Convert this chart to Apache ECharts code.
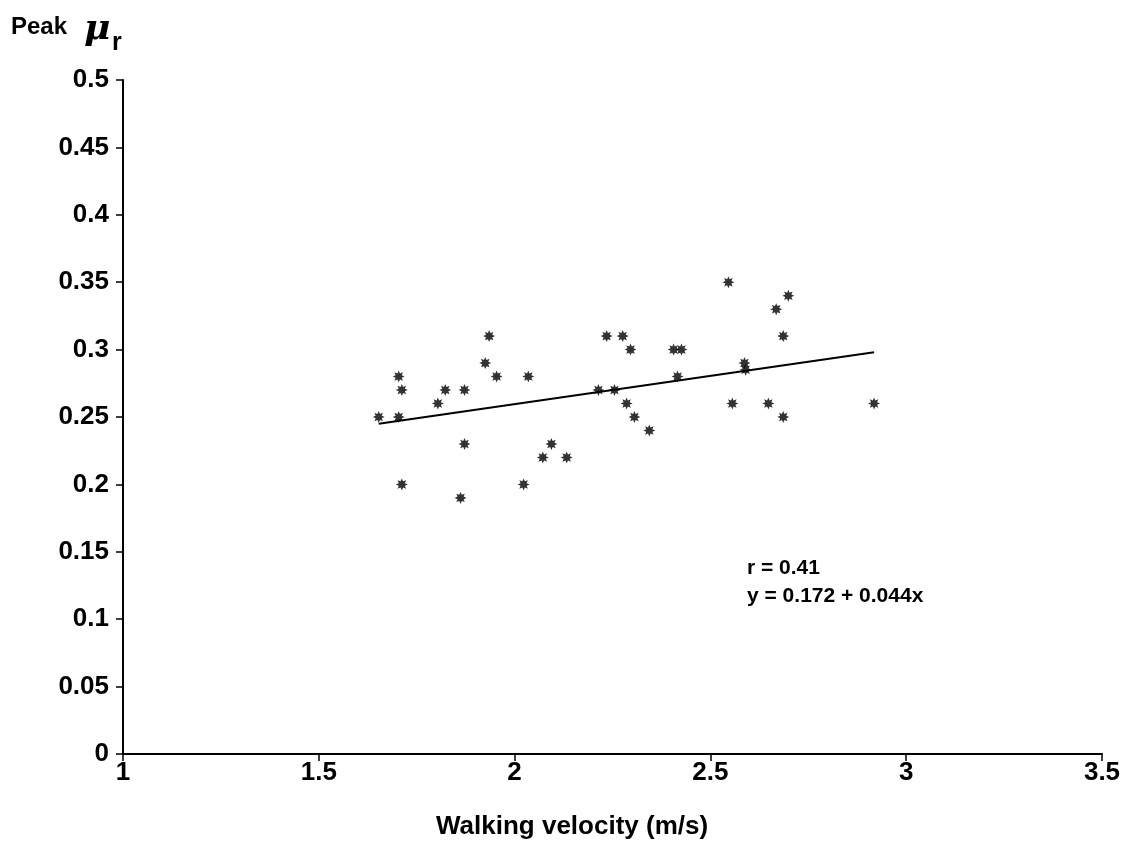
<!DOCTYPE html>
<html><head><meta charset="utf-8">
<script src="https://cdn.jsdelivr.net/npm/echarts@6/dist/echarts.min.js"></script>
<style>html,body{margin:0;padding:0;background:#fff}#c{width:1124px;height:852px}</style>
</head><body><div id="c"></div>
<script>
const velocity = [1.653,1.704,1.704,1.712,1.712,1.804,1.823,1.862,1.872,1.872,1.925,1.935,1.954,2.023,2.035,2.072,2.094,2.133,2.214,2.235,2.255,2.276,2.286,2.296,2.306,2.344,2.406,2.416,2.426,2.546,2.556,2.587,2.590,2.648,2.668,2.686,2.699,2.686,2.918];
const peakMu   = [0.25,0.28,0.25,0.27,0.20,0.26,0.27,0.19,0.27,0.23,0.29,0.31,0.28,0.20,0.28,0.22,0.23,0.22,0.27,0.31,0.27,0.31,0.26,0.30,0.25,0.24,0.30,0.28,0.30,0.35,0.26,0.29,0.285,0.26,0.33,0.31,0.34,0.25,0.26];
const fitX = [1.653, 2.918];
const fitY = [0.245, 0.298];
const xTicks = [1, 1.5, 2, 2.5, 3, 3.5];
const yTicks = [0,0.05,0.1,0.15,0.2,0.25,0.3,0.35,0.4,0.45,0.5];
const xTitle = 'Walking velocity (m/s)';
const yTitle = ['Peak', 'μ', 'r'];
const statText = ['r = 0.41', 'y = 0.172 + 0.044x'];

// asterisk symbol path
let pts = [];
for (let i = 0; i < 16; i++) {
  const a = Math.PI * i / 8 - Math.PI/2;
  const r = (i % 2 === 0) ? 10 : 5.5;
  pts.push((10 + r*Math.cos(a)).toFixed(2) + ' ' + (10 + r*Math.sin(a)).toFixed(2));
}
const starPath = 'path://M' + pts.join(' L') + ' Z';

const chart = echarts.init(document.getElementById('c'));
const font = 'Liberation Sans, Arial, sans-serif';
chart.setOption({
  animation: false,
  backgroundColor: '#fff',
  grid: {left: 123, right: 22, top: 80, bottom: 98},
  xAxis: {
    type: 'value', min: 1, max: 3.5, interval: 0.5,
    axisLine: {lineStyle: {color: '#000', width: 2}},
    axisTick: {show: true, length: 7, lineStyle: {color: '#000', width: 1.5}},
    axisLabel: {color: '#000', fontSize: 26, fontWeight: 'bold', fontFamily: font, margin: 6,
      formatter: v => xTicks.includes(v) ? String(v) : ''},
    splitLine: {show: false}
  },
  yAxis: {
    type: 'value', min: 0, max: 0.5, interval: 0.05,
    axisLine: {show: true, lineStyle: {color: '#000', width: 2}},
    axisTick: {show: true, length: 7, lineStyle: {color: '#000', width: 1.5}},
    axisLabel: {color: '#000', fontSize: 26, fontWeight: 'bold', fontFamily: font, margin: 14,
      formatter: v => { const t = yTicks.find(y => Math.abs(y - v) < 1e-9); return t === undefined ? '' : String(t); }},
    splitLine: {show: false}
  },
  series: [
    {
      type: 'scatter', symbol: starPath, symbolSize: 12,
      itemStyle: {color: '#000'},
      data: velocity.map((v, i) => [v, peakMu[i]])
    },
    {
      type: 'line', symbol: 'none', lineStyle: {color: '#000', width: 2},
      data: fitX.map((v, i) => [v, fitY[i]])
    }
  ],
  graphic: [
    {type: 'text', left: 11, top: 15, style: {text: yTitle[0], fontSize: 24, fontWeight: 'bold', fontFamily: font, fill: '#000'}},
    {type: 'text', left: 84, top: 12, style: {text: yTitle[1], fontSize: 36, fontWeight: 'bold', fontStyle: 'italic', fontFamily: 'DejaVu Serif, serif', fill: '#000'}},
    {type: 'text', left: 112, top: 31, style: {text: yTitle[2], fontSize: 25, fontWeight: 'bold', fontFamily: font, fill: '#000'}},
    {type: 'text', left: 436, top: 814, style: {text: xTitle, fontSize: 26, fontWeight: 'bold', fontFamily: font, fill: '#000'}},
    {type: 'text', left: 747, top: 558, style: {text: statText[0], fontSize: 21, fontWeight: 'bold', fontFamily: font, fill: '#000'}},
    {type: 'text', left: 747, top: 586, style: {text: statText[1], fontSize: 21, fontWeight: 'bold', fontFamily: font, fill: '#000'}}
  ]
});
</script></body></html>
